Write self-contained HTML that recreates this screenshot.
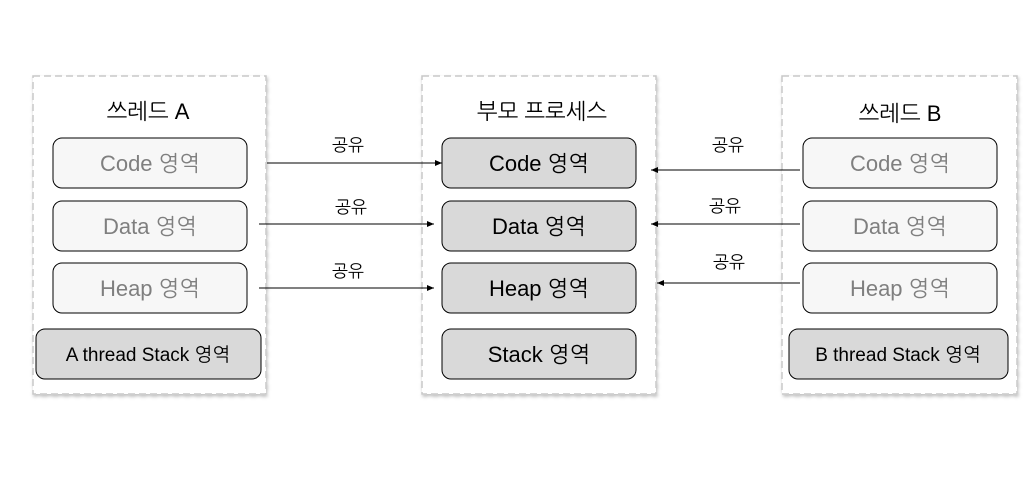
<!DOCTYPE html>
<html><head><meta charset="utf-8"><style>
html,body{margin:0;padding:0;background:#fff;width:1030px;height:483px;overflow:hidden}
text{font-family:"Liberation Sans","NanumGothic","Noto Sans CJK KR",sans-serif}
</style></head><body>
<svg width="1030" height="483" viewBox="0 0 1030 483" xmlns="http://www.w3.org/2000/svg">
<defs>
<filter id="sh" x="-5%" y="-5%" width="110%" height="110%"><feDropShadow dx="1" dy="2" stdDeviation="1.5" flood-color="#000" flood-opacity="0.25"/></filter>
<marker id="ar" markerWidth="8" markerHeight="6" refX="7" refY="3" orient="auto" markerUnits="userSpaceOnUse"><path d="M0,0 L7,3 L0,6z" fill="#000"/></marker>
</defs>
<g fill="#fff" stroke="#c8c8c8" stroke-width="1.5" stroke-dasharray="7,4" filter="url(#sh)">
<rect x="33" y="76" width="233" height="318"/>
<rect x="422" y="76" width="234" height="318"/>
<rect x="782" y="76" width="235" height="318"/>
</g>
<g font-size="22" text-anchor="middle" fill="#000">
<text x="148" y="119">쓰레드 A</text>
<text x="542" y="119">부모 프로세스</text>
<text x="900" y="121">쓰레드  B</text>
</g>
<g stroke="#000" stroke-width="1">
<rect x="53" y="138" width="194" height="50" rx="9" fill="#f7f7f7"/>
<rect x="53" y="201" width="194" height="50" rx="9" fill="#f7f7f7"/>
<rect x="53" y="263" width="194" height="50" rx="9" fill="#f7f7f7"/>
<rect x="36" y="329" width="225" height="50" rx="9" fill="#d9d9d9"/>
<rect x="442" y="138" width="194" height="50" rx="9" fill="#d9d9d9"/>
<rect x="442" y="201" width="194" height="50" rx="9" fill="#d9d9d9"/>
<rect x="442" y="263" width="194" height="50" rx="9" fill="#d9d9d9"/>
<rect x="442" y="329" width="194" height="50" rx="9" fill="#d9d9d9"/>
<rect x="803" y="138" width="194" height="50" rx="9" fill="#f7f7f7"/>
<rect x="803" y="201" width="194" height="50" rx="9" fill="#f7f7f7"/>
<rect x="803" y="263" width="194" height="50" rx="9" fill="#f7f7f7"/>
<rect x="789" y="329" width="219" height="50" rx="9" fill="#d9d9d9"/>
</g>
<g font-size="22" text-anchor="middle" fill="#7f7f7f">
<text x="150" y="171">Code 영역</text>
<text x="150" y="234">Data 영역</text>
<text x="150" y="296">Heap 영역</text>
<text x="900" y="171">Code 영역</text>
<text x="900" y="234">Data 영역</text>
<text x="900" y="296">Heap 영역</text>
</g>
<g font-size="22" text-anchor="middle" fill="#000">
<text x="539" y="171">Code 영역</text>
<text x="539" y="234">Data 영역</text>
<text x="539" y="296">Heap 영역</text>
<text x="539" y="362">Stack 영역</text>
</g>
<g font-size="19" text-anchor="middle" fill="#000">
<text x="148" y="361">A thread Stack 영역</text>
<text x="898" y="361">B thread Stack 영역</text>
</g>
<g stroke="#000" stroke-width="1" marker-end="url(#ar)">
<line x1="267" y1="163" x2="442" y2="163"/>
<line x1="259" y1="224" x2="434" y2="224"/>
<line x1="259" y1="288" x2="434" y2="288"/>
<line x1="800" y1="170" x2="651" y2="170"/>
<line x1="800" y1="224" x2="651" y2="224"/>
<line x1="800" y1="283" x2="657" y2="283"/>
</g>
<g font-size="17" text-anchor="middle" fill="#000">
<text x="348" y="151">공유</text>
<text x="351" y="213">공유</text>
<text x="348" y="277">공유</text>
<text x="728" y="151">공유</text>
<text x="725" y="212">공유</text>
<text x="729" y="268">공유</text>
</g>
</svg>
</body></html>
